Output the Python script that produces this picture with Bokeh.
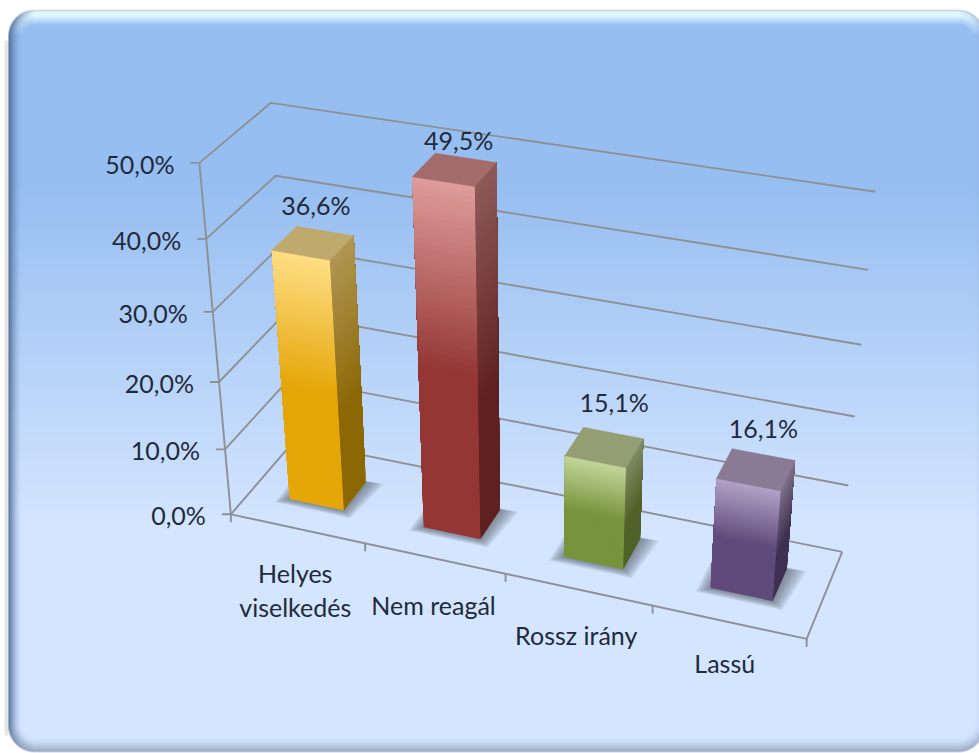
import numpy as np
from bokeh.core.properties import value
from bokeh.embed import file_html
from bokeh.models import Range1d
from bokeh.plotting import figure
from bokeh.resources import INLINE

# Chart content
categories = ["Helyes\nviselkedés", "Nem reagál", "Rossz irány", "Lassú"]
shares = [36.6, 49.5, 15.1, 16.1]
share_labels = ["36,6%", "49,5%", "15,1%", "16,1%"]
axis_levels = [0, 10, 20, 30, 40, 50]
axis_labels = ["0,0%", "10,0%", "20,0%", "30,0%", "40,0%", "50,0%"]

W, H = 979, 753
FONT = value("Lato")
TEXT = "#1f2a3a"
GRID = "#8e9094"
FONT_SIZE = "25px"

# Perspective camera: (category, depth, level) -> pixel position, solved from the box corners
BOX = [
    ((0, 0, 0), (231, 515)), ((1, 0, 0), (363, 543)), ((2, 0, 0), (505, 573)),
    ((3, 0, 0), (652, 607)), ((4, 0, 0), (806, 637)), ((0, 1, 0), (293, 440)),
    ((4, 1, 0), (842, 551)), ((0, 0, 50), (198, 162)), ((0, 1, 50), (270, 103)),
    ((4, 1, 50), (875, 192)), ((0, 0, 30), (213, 310)), ((4, 1, 30), (861, 344)),
    ((0, 0, 10), (226, 449)), ((4, 1, 10), (848, 485)),
]
rows, rhs = [], []
for (c, d, v), (u, w) in BOX:
    rows.append([c, d, v, 1, 0, 0, 0, 0, -u * c, -u * d, -u * v])
    rhs.append(u)
    rows.append([0, 0, 0, 0, c, d, v, 1, -w * c, -w * d, -w * v])
    rhs.append(w)
cam = np.append(np.linalg.lstsq(np.array(rows, float), np.array(rhs, float), rcond=None)[0], 1).reshape(3, 4)


def project(c, d, v):
    """Return plot coordinates (y upwards) for a point of the 3D box."""
    h = cam @ np.array([c, d, v, 1.0])
    return h[0] / h[2], H - h[1] / h[2]


def quad(points):
    pts = [project(*q) for q in points]
    return [q[0] for q in pts], [q[1] for q in pts]


def mix(a, b, t):
    return tuple(a[i] + (b[i] - a[i]) * t for i in range(3))


def rgb(t):
    return "#%02x%02x%02x" % tuple(int(round(x)) for x in t)


def backdrop():
    """Rounded panel with a vertical gradient and bevelled edges."""
    yy, xx = np.mgrid[0:H, 0:W].astype(float) + 0.5
    x0, x1, y0, y1, r = 8.0, 984.0, 9.5, 751.5, 26.0
    qx = np.clip(xx, x0 + r, x1 - r)
    qy = np.clip(yy, y0 + r, y1 - r)
    vx, vy = xx - qx, yy - qy
    dist = np.hypot(vx, vy)
    edge = r - dist
    safe = np.where(dist > 0, dist, 1)
    nx, ny = vx / safe, vy / safe

    t = np.clip((yy - 180) / 340, 0, 1)
    col = np.empty((H, W, 3))
    top, bottom = np.array([0x96, 0xBE, 0xF1]), np.array([0xD3, 0xE5, 0xFF])
    for i in range(3):
        col[..., i] = top[i] + (bottom[i] - top[i]) * t

    def blend(weight, colour):
        w = np.clip(weight, 0, 1)[..., None]
        col[:] = col * (1 - w) + np.array(colour, float) * w

    up = np.clip(-ny, 0, 1)
    down = np.clip(ny, 0, 1)
    left = np.clip(-nx, 0, 1)
    right = np.clip(nx, 0, 1)
    blend(up * np.clip((15 - edge) / 9, 0, 1), (222, 248, 255))
    blend(up * np.clip((2 - edge) / 2, 0, 1) * 0.8, (165, 175, 195))
    blend(left * np.clip((13 - edge) / 13, 0, 1) ** 1.6 * 0.9, (70, 100, 145))
    blend(down * np.clip((14 - edge) / 14, 0, 1) ** 1.4 * 0.85, (140, 155, 178))
    blend(right * np.clip((9 - edge) / 9, 0, 1) ** 1.4 * 0.5, (140, 160, 190))

    alpha = np.clip(edge + 0.5, 0, 1)
    out = np.empty((H, W, 4), dtype=np.uint8)
    out[..., :3] = np.clip(col, 0, 255).astype(np.uint8)
    out[..., 3] = (alpha * 255).astype(np.uint8)
    # Faint dotted trace just outside the left edge
    speck = (xx > 4) & (xx < 8) & (yy > 40) & (yy < 735) & ((xx.astype(int) + yy.astype(int)) % 2 == 0)
    out[speck] = (205, 205, 205, 255)
    img = out.view(np.uint32).reshape(H, W)
    return img[::-1]


p = figure(width=W, height=H, x_range=Range1d(0, W), y_range=Range1d(0, H),
           output_backend="svg", toolbar_location=None, min_border=0,
           background_fill_color="white", border_fill_color="white", outline_line_color=None)
p.axis.visible = False
p.grid.visible = False

p.image_rgba(image=[backdrop()], x=0, y=0, dw=W, dh=H)

# Gridlines on the side wall and the back wall, then the two floor edges and the vertical axis
CMAX = 4
LW = 1.9
for lv in axis_levels:
    xs, ys = quad([(0, 0, lv), (0, 1, lv), (CMAX, 1, lv)])
    p.line(xs, ys, line_color=GRID, line_width=LW)
xs, ys = quad([(0, 0, 0), (0, 0, 50)])
p.line(xs, ys, line_color=GRID, line_width=LW)
xs, ys = quad([(0, 0, 0), (CMAX, 0, 0), (CMAX, 1, 0)])
p.line(xs, ys, line_color=GRID, line_width=LW)

# Tick marks
for lv in axis_levels:
    x, y = project(0, 0, lv)
    p.segment([x - 9], [y], [x], [y], line_color=GRID, line_width=LW)
for c in range(CMAX + 1):
    x, y = project(c, 0, 0)
    p.segment([x], [y], [x], [y - 8], line_color=GRID, line_width=LW)

# Bars: fill colours per face (top of gradient, bottom of gradient, lid)
BAR_STYLE = [
    ((176, 150, 84), (140, 104, 5)),
    ((142, 90, 88), (95, 33, 31)),
    ((127, 139, 98), (79, 98, 40)),
    ((126, 113, 136), (63, 49, 81)),
]
FRONT_STYLE = [
    ((254, 222, 133), (229, 166, 8)),
    ((222, 156, 154), (147, 54, 52)),
    ((195, 214, 155), (119, 147, 60)),
    ((179, 162, 199), (96, 74, 123)),
]
LID_STYLE = [(190, 170, 108), (163, 108, 106), (147, 159, 115), (138, 122, 148)]
HALF = 0.205
D0, D1 = 0.31, 0.68
SLICES = 70
for i, val in enumerate(shares):
    c0, c1 = i + 0.5 - HALF, i + 0.5 + HALF
    front_a, front_b = FRONT_STYLE[i]
    side_a, side_b = BAR_STYLE[i]

    # Soft shadow on the floor, darkest next to the base
    for k in range(1, 7):
        e = k * 0.013
        xs, ys = quad([(c0 - e, D0 - e * 0.9, 0), (c1 + e, D0 - e * 0.9, 0),
                       (c1 + e * 1.6, D1 + e * 0.3, 0), (c0 - e, D1 + e * 0.3, 0)])
        p.patch(xs, ys, fill_color="#4a5260", fill_alpha=0.13, line_color=None)

    # Each slice runs up to the lid and the next one overpaints it, which hides the seams
    for s in range(SLICES):
        v_lo = val * s / SLICES
        depth = 1 - (s + 0.5) / SLICES
        col = rgb(mix(front_a, front_b, min(depth / 0.52, 1)))
        xs, ys = quad([(c0, D0, v_lo), (c1, D0, v_lo), (c1, D0, val), (c0, D0, val)])
        p.patch(xs, ys, fill_color=col, line_color=None)
        col = rgb(mix(side_a, side_b, min(depth / 0.6, 1)))
        xs, ys = quad([(c1, D0, v_lo), (c1, D1, v_lo), (c1, D1, val), (c1, D0, val)])
        p.patch(xs, ys, fill_color=col, line_color=None)
    xs, ys = quad([(c0, D0, val), (c1, D0, val), (c1, D1, val), (c0, D1, val)])
    lid = rgb(LID_STYLE[i])
    p.patch(xs, ys, fill_color=lid, line_color=lid, line_width=0.4)

# Value labels sit above the back edge of each lid
LABEL_SHIFT = [(-9, -26), (-7, -18), (1, -31), (0, -27)]
for i, val in enumerate(shares):
    x, y = project(i + 0.5, D1, val)
    p.text([x], [y], text=[share_labels[i]], text_font=FONT, text_font_size=FONT_SIZE,
           text_color=TEXT, text_align="center", text_baseline="middle",
           x_offset=LABEL_SHIFT[i][0], y_offset=LABEL_SHIFT[i][1])

# Axis labels
for lv, lab in zip(axis_levels, axis_labels):
    x, y = project(0, 0, lv)
    p.text([x], [y], text=[lab], text_font=FONT, text_font_size=FONT_SIZE, text_color=TEXT,
           text_align="right", text_baseline="middle", x_offset=-25, y_offset=1)

CATEGORY_SHIFT = [(-2, 44), (-1, 47), (-2, 46), (-4, 41)]
LINE_STEP = 34
for i, cat in enumerate(categories):
    x, y = project(i + 0.5, 0, 0)
    for j, line in enumerate(cat.split("\n")):
        p.text([x], [y], text=[line], text_font=FONT, text_font_size=FONT_SIZE, text_color=TEXT,
               text_align="center", text_baseline="middle",
               x_offset=CATEGORY_SHIFT[i][0], y_offset=CATEGORY_SHIFT[i][1] + j * LINE_STEP)

open("out.html", "w").write(file_html(p, INLINE))
